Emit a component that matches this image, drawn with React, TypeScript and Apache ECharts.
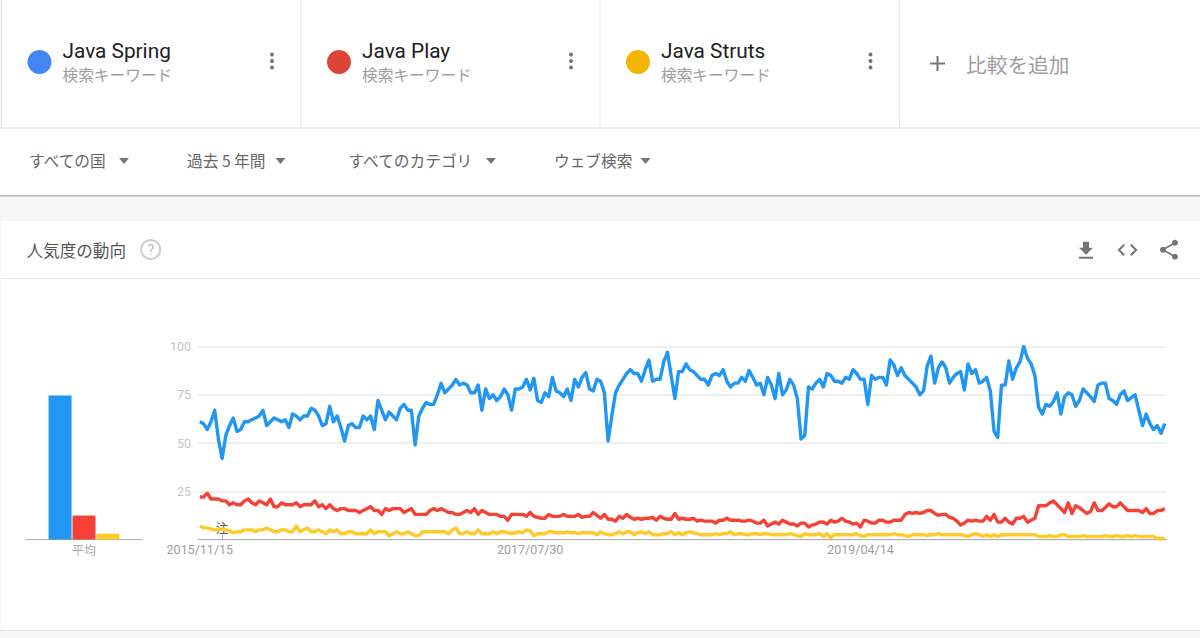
import React, { useEffect, useRef } from "react";
import * as echarts from "echarts";

const seriesNames = ["Java Spring", "Java Play", "Java Struts"];
const averages = [74.6, 12.4, 3];
const blue = [
  61,60,57,61,67,52,42,54,59,63, 56,57,61,61,62,63,64,67,59,61,
  63,62,61,62,58,65,64,62,64,64, 68,67,64,59,60,69,61,64,58,51,
  59,60,58,58,64,62,64,57,72,67, 62,66,64,62,68,70,67,67,49,64,
  68,71,70,70,75,81,76,78,80,83, 80,81,80,76,76,80,67,78,73,75,
  72,
  74,78,75,67,78,78,79,83,77.5,83.5, 72,71,76,74,84,77,76,74,78,72,
  83,79,84,86.5,78,77,83,82,76,51, 64,76,80,83,86,88,86,86,82,88,
  93,82,83,83,92,97,85,73,87,87, 91,88,87,85,83,83,80,85,86,85,
  88,82,79,81,81,84,82,87.5,84,80, 81,75,84,80,73,86,75,77.5,83,80,
  73,52,54,79,78,81,83,79,86,85, 82,82,81,84,83,
  88,86,83,83,70,85,83,84,84,80, 93,90.5,85,89,85,83,81,79,75,77,
  90,95,81,89,92,89,81,84,86,87, 77.5,91,86,88,81,82,84,77,56,53,
  80,80,92.5,83,89,92,100,94,91,85, 68.5,65,70,69,71.5,76,65,74,76,75,
  69,72,78,76,74,71.5,80,81,81,73, 72,70,75,77,72,73.5,75,67,59,65,
  60,57,59,55,60,
];
const red = [
  22,22,24,21,21,21,20,20,18,19, 18,18,20,21,19,18,20,19,18,21,
  17,17,19,18,18,18,19,17,18,18, 18,20,17,18,16,18,16,15,16,16,
  15,15,15,14,15,16,17,15,15,13, 16,15,16,16,16,14,15,16,13,13,
  13,13,15,16,15,16,15,14,14,13, 13,14,15,14,16,13,15,14,13,13,
  13,
  12,12,10,13,13,13,13,12,14,12, 11.5,11,11,13,12,12,12,13,12,12,
  12,13,11.5,12,12,14,12.5,11,13,10.5, 10.5,9.5,12,11,13,11.5,10.5,11,10.5,11,
  11,11.5,10,12,11,10.5,10.5,13.5,10.5,11, 10.5,10.5,11,9.5,10,9.5,9.5,9.5,8.5,10,
  10,11,10,10,10,9.5,9.5,10,9.5,8.5, 8.5,10,7,8,9,8,10,9,8,8,
  7,8.5,8.5,6.5,7.5,8,9,9,8,10, 9,9.5,11,9.5,9,
  8,8.5,6.5,10,9.5,8.5,8.5,10,10,9, 9,10,10,10,13,14,13.5,14,13.5,14,
  15,15,13.5,12.5,13,13,11.5,11,9.5,7.5, 8.5,10,9.5,10,9.5,9.5,12,10,13,9,
  9,11,9,8,11,11,12,9,10,11, 17.5,17.5,17.5,19,20,18,16,14,19,13.5,
  17.5,16.5,15,13.5,14.5,19,15,15,16.5,18.5, 17,17,19,17,15,15,15,15,14,16,
  13.5,13.5,15,15,16,
];
const yellow = [
  7,6,6,5.5,5,5,5.5,5,4.5,3.5, 4,4,5,5,5,4,5,5,6,5,
  4,4,5,5,4,4,7,4,5,6, 4,4,5,4,3,5,4,5,3,3,
  4,4,3,3,3,3,5,3,4,4, 4,2,3,4,3,3,4,3,2,2,
  4,4,4,4,4,4,4,3,5,6, 3,3,4,3,3,5,3,3,3,4,
  3,
  4,4,3.5,3,3.5,4,3.5,5,4.5,2, 3,3,3,4,4,3.5,3.5,3.5,4,3.5,
  3.5,3,3.5,3.5,3.5,3.5,2.5,4,3,2.5, 2.5,3,4,3,4,4,2.5,3.5,4,3,
  4,2.5,2.5,2.5,3,3,4,2.5,3.5,2.5, 3.5,4,3.5,3,2.5,2.5,2.5,2.5,3,2.5,
  3,3,4,2.5,3,3,2.5,2.5,3,3, 2.5,3,3,2.5,2.5,2.5,2.5,2.5,3,2.5,
  2,1.5,3,2.5,2.5,2.5,3,1.5,3,1, 2.5,2.5,2.5,2.5,2.5,
  2.5,3,2,1.5,2.5,2.5,2.5,2.5,2.5,2.5, 2.5,3,2.5,2.5,2,1.5,2.5,2.5,2.5,2.5,
  2,2.5,2.5,3,2.5,2.5,2.5,2.5,2.5,2.5, 2,1.5,2.5,3,2.5,1.5,2.5,1.5,2.5,1.5,
  2.5,2.5,2.5,2.5,2.5,2.5,2.5,2.5,2.5,2.5, 1.5,1.5,1.5,2,1.5,1.5,2.5,2.5,1.5,1.5,
  1.5,1.5,2,1.5,1.5,1.5,1.5,1.5,2,1.5, 1.5,2,1.5,1.5,2,1.5,2,1.5,1.5,1.5,
  1.5,1.5,0.5,0.5,0.5,
];
const lineColors = ["#2196F3", "#F44336", "#FFCA28"];
const chipColors = ["#4285F4", "#DB4437", "#F4B400"];
const labelledWeeks = [0, 89, 178];
const noteWeek = 6;

const weeks = blue.map((_, i) => {
  const d = new Date(Date.UTC(2015, 10, 15 + i * 7));
  const p = (n: number) => String(n).padStart(2, "0");
  return `${d.getUTCFullYear()}/${p(d.getUTCMonth() + 1)}/${p(d.getUTCDate())}`;
});

const CJK = '"Noto Sans CJK JP", "Noto Sans", sans-serif';
const ROBOTO = 'Roboto, "Noto Sans CJK JP", sans-serif';

const ICON_DOWNLOAD = "M19 9h-4V3H9v6H5l7 7 7-7zM5 18v2h14v-2H5z";
const ICON_CODE = "M9.4 16.6L4.8 12l4.6-4.6L8 6l-6 6 6 6 1.4-1.4zm5.2 0l4.6-4.6-4.6-4.6L16 6l6 6-6 6-1.4-1.4z";
const ICON_SHARE = "M18 16.08c-.76 0-1.44.3-1.96.77L8.91 12.7c.05-.23.09-.46.09-.7s-.04-.47-.09-.7l7.05-4.11c.54.5 1.25.81 2.04.81 1.66 0 3-1.34 3-3s-1.34-3-3-3-3 1.34-3 3c0 .24.04.47.09.7L8.04 9.81C7.5 9.31 6.79 9 6 9c-1.66 0-3 1.34-3 3s1.34 3 3 3c.79 0 1.5-.31 2.04-.81l7.12 4.16c-.05.21-.08.43-.08.65 0 1.61 1.31 2.92 2.92 2.92 1.61 0 2.92-1.31 2.92-2.92s-1.31-2.92-2.92-2.92z";
echarts.graphic.registerShape("iconDownload", echarts.graphic.extendPath(ICON_DOWNLOAD, {}));
echarts.graphic.registerShape("iconCode", echarts.graphic.extendPath(ICON_CODE, {}));
echarts.graphic.registerShape("iconShare", echarts.graphic.extendPath(ICON_SHARE, {}));

const rect = (x: number, y: number, width: number, height: number, fill: string) => ({
  type: "rect", z: -10, silent: true, shape: { x, y, width, height }, style: { fill },
});
const text = (x: number, y: number, t: string, fontSize: number, fill: string, fontFamily = CJK, textAlign = "left") => ({
  type: "text", x, y, silent: true,
  style: { text: t, fontSize, fill, fontFamily, textAlign, textVerticalAlign: "middle" },
});
const dots = (x: number) => [54.5, 61, 67.5].map((y) => ({
  type: "circle", silent: true, shape: { cx: x, cy: y, r: 2 }, style: { fill: "#757575" },
}));
const caret = (cx: number) => ({
  type: "polygon", silent: true,
  shape: { points: [[cx - 5, 158], [cx + 5, 158], [cx, 164]] },
  style: { fill: "#757575" },
});

const chipX = [39.5, 339, 638];
const chipTextX = [62.5, 362, 661];
const chipDotsX = [272, 571, 870.5];
const filters: [number, string, number][] = [
  [29, "すべての国", 124],
  [187, "過去 5 年間", 280.5],
  [348.5, "すべてのカテゴリ", 491],
  [554, "ウェブ検索", 645.5],
];

const graphicElements: any[] = [
  rect(0, 0, 1200, 638, "#f6f6f6"),
  rect(1, 0, 1199, 127, "#ffffff"),
  rect(1, 0, 1, 127, "#e6e6e6"),
  rect(300.5, 0, 1, 127, "#e6e6e6"),
  rect(599.5, 0, 1, 127, "#e6e6e6"),
  rect(899, 0, 1, 127, "#e6e6e6"),
  rect(0, 127, 1200, 2, "#ececec"),
  rect(0, 129, 1200, 66, "#ffffff"),
  rect(0, 195, 1200, 1, "#b8b8b8"),
  rect(0, 196, 1200, 1, "#d4d4d4"),
  rect(1, 221, 1199, 409, "#ffffff"),
  rect(1, 278, 1199, 1, "#e6e6e6"),
  rect(0, 630, 1200, 1, "#e4e4e4"),
  ...seriesNames.flatMap((name, i) => [
    { type: "circle", silent: true, shape: { cx: chipX[i], cy: 62, r: 12 }, style: { fill: chipColors[i] } },
    text(chipTextX[i], 51, name, 20.8, "#212121", ROBOTO),
    text(chipTextX[i], 74, "検索キーワード", 15.7, "#9e9e9e"),
    ...dots(chipDotsX[i]),
  ]),
  { type: "line", silent: true, shape: { x1: 930, y1: 63.5, x2: 945, y2: 63.5 }, style: { stroke: "#757575", lineWidth: 2 } },
  { type: "line", silent: true, shape: { x1: 937.5, y1: 56, x2: 937.5, y2: 71 }, style: { stroke: "#757575", lineWidth: 2 } },
  text(966, 63.5, "比較を追加", 20.7, "#9e9e9e"),
  ...filters.flatMap(([x, t, cx]) => [text(x, 160.5, t, 15.7, "#666666"), caret(cx)]),
  text(26.5, 249.5, "人気度の動向", 16.6, "#555555"),
  { type: "circle", silent: true, shape: { cx: 150.7, cy: 249.5, r: 9.5 }, style: { fill: "none", stroke: "#cccccc", lineWidth: 2 } },
  text(150.7, 249.5, "?", 14, "#bdbdbd", ROBOTO, "center"),
  { type: "iconDownload", silent: true, x: 1074, y: 238.8, style: { fill: "#757575" } },
  { type: "iconCode", silent: true, x: 1115.5, y: 238, style: { fill: "#757575" } },
  { type: "iconShare", silent: true, x: 1157, y: 237.7, style: { fill: "#757575" } },
  text(222, 527.5, "注", 12.5, "#555555", CJK, "center"),
];

export default function App() {
  const ref = useRef<HTMLDivElement>(null);
  useEffect(() => {
    const chart = echarts.init(ref.current!, undefined, { renderer: "svg" });
    chart.setOption({
      animation: false,
      backgroundColor: "transparent",
      graphic: { elements: graphicElements },
      grid: [
        { left: 26, width: 116, top: 346.5, height: 193 },
        { left: 198, width: 968.6, top: 346.5, height: 193 },
      ],
      xAxis: [
        {
          gridIndex: 0, type: "category", data: ["平均"],
          axisLine: { lineStyle: { color: "#b0b0b0", width: 1 } },
          axisTick: { show: false },
          axisLabel: { color: "#aaaaaa", fontSize: 12, fontFamily: CJK, margin: 4 },
        },
        {
          gridIndex: 1, type: "category", data: weeks, boundaryGap: true,
          axisLine: { lineStyle: { color: "#b0b0b0", width: 1 } },
          axisTick: {
            show: true, inside: true, length: 5, alignWithLabel: true,
            interval: (i: number) => i === noteWeek,
            lineStyle: { color: "#b0b0b0" },
          },
          axisLabel: {
            color: "#9e9e9e", fontSize: 12.5, fontFamily: ROBOTO, margin: 4, hideOverlap: false,
            interval: (i: number) => labelledWeeks.includes(i),
          },
        },
      ],
      yAxis: [
        { gridIndex: 0, type: "value", min: 0, max: 100, show: false },
        {
          gridIndex: 1, type: "value", min: 0, max: 100, interval: 25,
          axisLine: { show: false }, axisTick: { show: false },
          axisLabel: { color: "#c4c4c4", fontSize: 12.5, fontFamily: ROBOTO, margin: 7, showMinLabel: false },
          splitLine: { lineStyle: { color: "#ebebeb", width: 1.5 } },
        },
      ],
      series: [
        ...seriesNames.map((name, i) => ({
          type: "bar", name, xAxisIndex: 0, yAxisIndex: 0, barWidth: 23, barGap: "4%",
          data: [averages[i]], itemStyle: { color: lineColors[i] },
        })),
        ...[blue, red, yellow].map((data, i) => ({
          type: "line", name: seriesNames[i], xAxisIndex: 1, yAxisIndex: 1, data,
          showSymbol: false, smooth: false,
          lineStyle: { color: lineColors[i], width: 3.4, join: "round" },
        })),
      ],
    });
    return () => chart.dispose();
  }, []);
  return <div ref={ref} style={{ position: "absolute", left: 0, top: 0, width: 1200, height: 638 }} />;
}
